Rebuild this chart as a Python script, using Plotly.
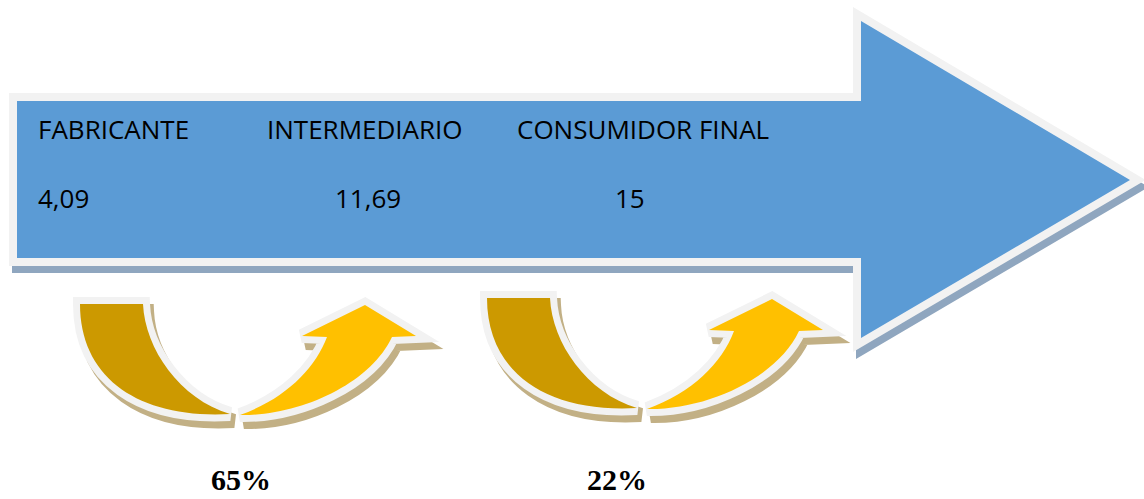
import plotly.graph_objects as go

# datos
etapas = ["FABRICANTE", "INTERMEDIARIO", "CONSUMIDOR FINAL"]
precios = ["4,09", "11,69", "15"]
margenes = ["65%", "22%"]

# posiciones (pixeles de la pagina)
W, H = 1144, 499
etapa_x = [37, 266, 516]
precio_x = [37, 334, 614]
etapa_y = 129
precio_y = 198
margen_x = [241, 617]
margen_y = 479
flecha_origen = [(80, 304), (487, 298)]

AZUL = "#5b9bd5"
BORDE = "#f2f2f2"
SOMBRA_AZUL = "#8fa6bf"
DORADO = "#cc9900"
AMARILLO = "#ffc000"
SOMBRA_DORADA = "#c2b085"


def path_poly(pts, dx=0, dy=0):
    return "M " + " L ".join(f"{x + dx},{y + dy}" for x, y in pts) + " Z"


def path_curva(ox, oy, parte, dx=0, dy=0):
    def p(x, y):
        return f"{ox + x + dx},{oy + y + dy}"
    if parte == "oscuro":
        return (f"M {p(0, 0)} L {p(63, 0)} C {p(65, 45)} {p(100, 95)} {p(150, 110)} "
                f"C {p(60, 115)} {p(0, 75)} {p(0, 0)} Z")
    return (f"M {p(160, 111)} C {p(220, 112)} {p(290, 80)} {p(312, 33)} "
            f"L {p(336, 32)} L {p(285, 1)} L {p(222, 32)} L {p(247, 33)} "
            f"C {p(235, 65)} {p(205, 95)} {p(160, 111)} Z")


flecha = [(17, 101), (861, 101), (861, 21), (1130, 180), (861, 338), (861, 258), (17, 258)]

shapes = []
# flecha grande: sombra, borde, relleno
shapes.append(dict(type="path", path=path_poly(flecha, 3, 7), fillcolor=SOMBRA_AZUL,
                   line=dict(color=SOMBRA_AZUL, width=16)))
shapes.append(dict(type="path", path=path_poly(flecha), fillcolor=BORDE,
                   line=dict(color=BORDE, width=16)))
shapes.append(dict(type="path", path=path_poly(flecha), fillcolor=AZUL,
                   line=dict(width=0)))

# flechas curvas
for ox, oy in flecha_origen:
    for parte in ["oscuro", "claro"]:
        shapes.append(dict(type="path", path=path_curva(ox, oy, parte, 4, 7),
                           fillcolor=SOMBRA_DORADA, line=dict(color=SOMBRA_DORADA, width=14)))
    for parte in ["oscuro", "claro"]:
        shapes.append(dict(type="path", path=path_curva(ox, oy, parte), fillcolor=BORDE,
                           line=dict(color=BORDE, width=14)))
    shapes.append(dict(type="path", path=path_curva(ox, oy, "oscuro"), fillcolor=DORADO,
                       line=dict(width=0)))
    shapes.append(dict(type="path", path=path_curva(ox, oy, "claro"), fillcolor=AMARILLO,
                       line=dict(width=0)))

annotations = []
for x, t in zip(etapa_x, etapas):
    annotations.append(dict(x=x, y=etapa_y, text=t, xanchor="left", yanchor="middle",
                            showarrow=False, borderpad=0,
                            font=dict(family="Open Sans", size=26, color="black")))
for x, t in zip(precio_x, precios):
    annotations.append(dict(x=x, y=precio_y, text=t, xanchor="left", yanchor="middle",
                            showarrow=False, borderpad=0,
                            font=dict(family="Open Sans", size=26, color="black")))
for x, t in zip(margen_x, margenes):
    annotations.append(dict(x=x, y=margen_y, text=f"<b>{t}</b>", xanchor="center",
                            yanchor="middle", showarrow=False, borderpad=0,
                            font=dict(family="Liberation Serif", size=30, color="black")))

fig = go.Figure()
fig.add_trace(go.Scatter(x=[0, W], y=[0, H], mode="markers",
                         marker=dict(opacity=0), hoverinfo="skip", showlegend=False))
fig.update_layout(
    width=W,
    height=H,
    margin=dict(l=0, r=0, t=0, b=0),
    paper_bgcolor="white",
    plot_bgcolor="white",
    shapes=shapes,
    annotations=annotations,
    xaxis=dict(range=[0, W], visible=False, fixedrange=True),
    yaxis=dict(range=[H, 0], visible=False, fixedrange=True),
    showlegend=False,
)
fig.write_html("out.html", config={"displayModeBar": False},
               post_script="document.body.style.margin='0';document.body.style.overflow='hidden';")
